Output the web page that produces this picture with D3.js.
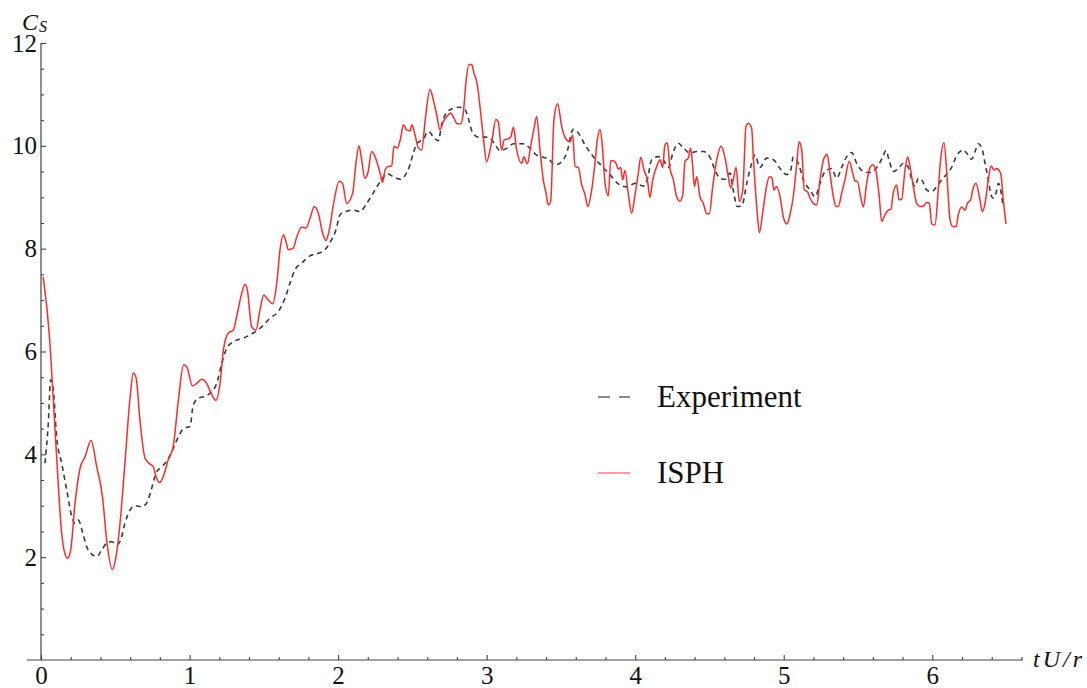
<!DOCTYPE html>
<html>
<head>
<meta charset="utf-8">
<script src="https://cdn.jsdelivr.net/npm/d3@7"></script>
<style>
  html, body { margin: 0; padding: 0; background: #fff; }
  svg { display: block; font-family: "Liberation Serif", "Times New Roman", serif; }
</style>
</head>
<body>
<svg id="chart"></svg>
<script>
// ISPH simulation (red solid line)
const isphT = [0.015, 0.06, 0.079, 0.105, 0.139, 0.16, 0.18, 0.2, 0.229, 0.263, 0.296, 0.337, 0.375, 0.415, 0.442, 0.48, 0.505, 0.532, 0.565, 0.6,
  0.621, 0.64, 0.666, 0.7, 0.734, 0.756, 0.774, 0.8, 0.823, 0.857, 0.89, 0.925, 0.96, 0.98, 1.02, 1.048, 1.082, 1.115, 1.149, 1.178,
  1.205, 1.228, 1.261, 1.295, 1.317, 1.351, 1.373, 1.389, 1.418, 1.447, 1.474, 1.5, 1.53, 1.56, 1.587, 1.609, 1.631, 1.649, 1.665, 1.698,
  1.721, 1.755, 1.784, 1.811, 1.84, 1.867, 1.896, 1.919, 1.941, 1.968, 2.008, 2.03, 2.058, 2.098, 2.12, 2.14, 2.155, 2.18, 2.2, 2.226,
  2.26, 2.282, 2.3, 2.316, 2.338, 2.361, 2.376, 2.399, 2.421, 2.439, 2.462, 2.484, 2.497, 2.518, 2.54, 2.563, 2.585, 2.619, 2.641, 2.664,
  2.686, 2.708, 2.735, 2.758, 2.78, 2.802, 2.825, 2.843, 2.861, 2.881, 2.899, 2.915, 2.937, 2.955, 2.977, 3.0, 3.023, 3.04, 3.061, 3.078,
  3.1, 3.119, 3.139, 3.162, 3.18, 3.202, 3.236, 3.251, 3.274, 3.296, 3.319, 3.337, 3.359, 3.381, 3.4, 3.415, 3.431, 3.453, 3.478, 3.505,
  3.53, 3.561, 3.579, 3.595, 3.617, 3.64, 3.662, 3.68, 3.707, 3.729, 3.745, 3.763, 3.779, 3.797, 3.819, 3.835, 3.853, 3.871, 3.886, 3.902,
  3.916, 3.931, 3.953, 3.976, 3.999, 4.021, 4.037, 4.059, 4.081, 4.1, 4.118, 4.145, 4.167, 4.185, 4.2, 4.216, 4.234, 4.257, 4.279, 4.302,
  4.32, 4.335, 4.357, 4.373, 4.387, 4.398, 4.414, 4.436, 4.459, 4.481, 4.499, 4.522, 4.549, 4.578, 4.605, 4.627, 4.643, 4.66, 4.679, 4.701,
  4.724, 4.746, 4.762, 4.784, 4.795, 4.818, 4.836, 4.858, 4.88, 4.903, 4.919, 4.934, 4.952, 4.975, 4.997, 5.02, 5.042, 5.064, 5.087, 5.103,
  5.121, 5.138, 5.159, 5.177, 5.199, 5.222, 5.244, 5.271, 5.293, 5.311, 5.334, 5.352, 5.367, 5.39, 5.412, 5.441, 5.464, 5.48, 5.495, 5.518,
  5.536, 5.558, 5.581, 5.599, 5.621, 5.643, 5.659, 5.682, 5.704, 5.722, 5.737, 5.76, 5.776, 5.794, 5.816, 5.834, 5.85, 5.872, 5.895, 5.917,
  5.939, 5.962, 5.98, 5.996, 6.018, 6.04, 6.056, 6.079, 6.099, 6.119, 6.137, 6.16, 6.175, 6.198, 6.22, 6.236, 6.259, 6.272, 6.294, 6.317,
  6.337, 6.355, 6.377, 6.395, 6.415, 6.433, 6.451, 6.462, 6.478, 6.496];
const isphCs = [7.45, 6.17, 5.25, 3.96, 2.47, 2.08, 1.98, 2.14, 3.05, 3.73, 3.95, 4.27, 3.76, 3.15, 2.33, 1.76, 2.01, 2.66, 3.83, 5.12,
  5.58, 5.49, 4.67, 3.93, 3.81, 3.76, 3.57, 3.45, 3.57, 3.9, 4.15, 5.06, 5.74, 5.71, 5.33, 5.38, 5.46, 5.38, 5.16, 5.05,
  5.38, 6.03, 6.36, 6.42, 6.68, 7.13, 7.31, 7.2, 6.48, 6.42, 6.81, 7.1, 7.0, 6.93, 7.33, 7.98, 8.27, 8.14, 7.98, 8.01,
  8.22, 8.42, 8.4, 8.59, 8.82, 8.69, 8.3, 8.16, 8.37, 8.85, 9.31, 9.27, 8.88, 9.08, 9.66, 10.0, 9.8, 9.37, 9.47, 9.89,
  9.7, 9.47, 9.29, 9.53, 9.6, 9.61, 9.99, 9.96, 10.15, 10.41, 10.31, 10.29, 10.41, 10.21, 9.96, 9.92, 10.47, 11.1, 10.89, 10.6,
  10.31, 10.47, 10.58, 10.64, 10.54, 10.43, 10.43, 10.64, 11.25, 11.58, 11.58, 11.41, 11.19, 10.77, 10.18, 9.69, 9.92, 10.18, 10.51, 10.47,
  9.92, 10.12, 10.13, 10.17, 10.36, 9.92, 9.66, 9.79, 9.65, 9.99, 10.34, 10.57, 9.92, 9.34, 9.08, 8.85, 8.92, 10.51, 10.82, 10.38,
  10.15, 10.08, 10.21, 9.6, 9.58, 9.24, 9.05, 8.82, 9.14, 9.66, 10.12, 10.32, 9.99, 9.27, 9.03, 9.71, 9.71, 9.66, 9.55, 9.58,
  9.34, 9.52, 9.08, 8.69, 9.05, 9.47, 9.78, 9.53, 9.35, 9.0, 9.34, 9.6, 9.73, 9.58, 10.02, 10.06, 9.56, 9.34, 9.01, 8.92,
  9.05, 9.7, 9.76, 9.96, 9.6, 9.21, 9.4, 9.01, 8.88, 8.68, 8.68, 9.21, 9.73, 9.99, 9.76, 9.39, 9.18, 9.34, 9.58, 8.92,
  9.14, 10.38, 10.44, 10.34, 9.79, 8.82, 8.31, 8.69, 9.14, 9.4, 9.39, 9.14, 9.21, 9.01, 8.62, 8.48, 8.66, 9.01, 9.63, 10.08,
  9.92, 9.14, 9.11, 8.98, 8.88, 8.85, 9.34, 9.76, 9.83, 9.47, 9.01, 8.82, 8.82, 9.08, 9.34, 9.7, 9.47, 9.31, 9.31, 9.01,
  8.81, 9.27, 9.58, 9.63, 9.5, 9.01, 8.53, 8.66, 8.75, 8.77, 9.08, 9.24, 8.95, 8.96, 9.53, 9.79, 9.6, 9.21, 8.88, 8.82,
  8.83, 8.9, 8.88, 8.48, 8.46, 9.14, 9.73, 10.06, 9.4, 8.57, 8.43, 8.43, 8.66, 8.81, 8.75, 8.88, 8.96, 9.14, 9.27, 9.01,
  8.72, 8.88, 9.34, 9.61, 9.53, 9.56, 9.52, 9.44, 8.95, 8.48];

// Experiment (dashed grey line)
const expT = [0.027, 0.049, 0.065, 0.083, 0.105, 0.139, 0.173, 0.207, 0.229, 0.251, 0.281, 0.308, 0.341, 0.375, 0.409, 0.442, 0.476, 0.51, 0.536, 0.565,
  0.6, 0.633, 0.678, 0.711, 0.745, 0.774, 0.812, 0.846, 0.886, 0.925, 0.963, 1.003, 1.025, 1.059, 1.093, 1.138, 1.183, 1.217, 1.25, 1.295,
  1.362, 1.429, 1.486, 1.542, 1.598, 1.643, 1.676, 1.71, 1.755, 1.811, 1.867, 1.912, 1.95, 1.986, 2.013, 2.046, 2.102, 2.147, 2.192, 2.226,
  2.26, 2.293, 2.327, 2.372, 2.417, 2.45, 2.484, 2.506, 2.533, 2.573, 2.607, 2.619, 2.641, 2.675, 2.697, 2.731, 2.776, 2.82, 2.854, 2.876,
  2.906, 2.944, 2.989, 3.023, 3.056, 3.09, 3.135, 3.18, 3.247, 3.292, 3.337, 3.381, 3.422, 3.46, 3.505, 3.539, 3.583, 3.617, 3.662, 3.718,
  3.774, 3.83, 3.886, 3.943, 3.999, 4.054, 4.081, 4.111, 4.156, 4.189, 4.223, 4.257, 4.29, 4.324, 4.369, 4.414, 4.459, 4.503, 4.537, 4.571,
  4.605, 4.638, 4.66, 4.687, 4.717, 4.751, 4.784, 4.806, 4.84, 4.885, 4.93, 4.975, 5.02, 5.047, 5.064, 5.098, 5.132, 5.177, 5.211, 5.244,
  5.278, 5.323, 5.356, 5.39, 5.424, 5.457, 5.491, 5.536, 5.581, 5.626, 5.666, 5.688, 5.711, 5.737, 5.771, 5.805, 5.839, 5.861, 5.884, 5.906,
  5.929, 5.962, 5.996, 6.03, 6.063, 6.097, 6.13, 6.164, 6.209, 6.231, 6.265, 6.288, 6.31, 6.333, 6.355, 6.377, 6.395, 6.411, 6.429, 6.445,
  6.456, 6.474];
const expCs = [3.83, 4.6, 5.45, 5.25, 4.34, 3.83, 3.31, 2.79, 2.66, 2.72, 2.47, 2.2, 2.06, 2.01, 2.14, 2.27, 2.3, 2.24, 2.33, 2.66,
  2.92, 3.0, 2.98, 3.05, 3.34, 3.63, 3.76, 3.86, 4.09, 4.34, 4.51, 4.54, 4.96, 5.09, 5.12, 5.19, 5.38, 5.77, 6.06, 6.19,
  6.26, 6.36, 6.48, 6.65, 6.78, 7.04, 7.33, 7.59, 7.72, 7.86, 7.91, 7.98, 8.14, 8.37, 8.66, 8.72, 8.75, 8.72, 8.88, 9.03,
  9.2, 9.34, 9.46, 9.4, 9.35, 9.42, 9.63, 9.86, 10.05, 10.13, 10.28, 10.26, 10.17, 10.1, 10.41, 10.65, 10.73, 10.75, 10.71, 10.54,
  10.25, 10.17, 10.17, 10.15, 10.02, 9.91, 9.95, 10.04, 10.04, 9.95, 9.82, 9.78, 9.73, 9.63, 9.69, 9.86, 10.32, 10.25, 10.02, 9.79,
  9.61, 9.44, 9.26, 9.2, 9.27, 9.22, 9.34, 9.73, 9.79, 9.73, 9.58, 9.89, 10.05, 9.96, 9.86, 9.89, 9.89, 9.78, 9.53, 9.37,
  9.35, 9.47, 9.14, 8.82, 8.83, 9.27, 9.66, 9.82, 9.58, 9.76, 9.73, 9.56, 9.44, 9.53, 9.78, 9.66, 9.34, 9.14, 9.01, 9.27,
  9.5, 9.56, 9.37, 9.58, 9.79, 9.87, 9.66, 9.5, 9.48, 9.58, 9.78, 9.91, 9.7, 9.5, 9.56, 9.66, 9.58, 9.34, 9.21, 9.37,
  9.34, 9.14, 9.11, 9.21, 9.34, 9.45, 9.58, 9.81, 9.92, 9.86, 9.74, 9.89, 10.04, 9.96, 9.66, 9.34, 9.05, 8.98, 9.08, 9.27,
  9.21, 8.87];

// Tick values
const xMajor = [0, 1, 2, 3, 4, 5, 6];
const xMinor = [0.2, 0.4, 0.6, 0.8, 1.2, 1.4, 1.6, 1.8, 2.2, 2.4, 2.6, 2.8, 3.2, 3.4, 3.6, 3.8, 4.2, 4.4, 4.6, 4.8, 5.2, 5.4, 5.6, 5.8, 6.2, 6.4, 6.6];
const yMajor = [2, 4, 6, 8, 10, 12];
const yMinor = [0.5, 1, 1.5, 2.5, 3, 3.5, 4.5, 5, 5.5, 6.5, 7, 7.5, 8.5, 9, 9.5, 10.5, 11, 11.5];

const seriesNames = ["Experiment", "ISPH"];

const width = 1087;
const height = 688;

const svg = d3.select("#chart")
    .attr("width", width)
    .attr("height", height);

// Scales (pixel positions of 0 and 6 / 0 and 12)
const x = d3.scaleLinear().domain([0, 6]).range([41, 932.3]);
const y = d3.scaleLinear().domain([0, 12]).range([660, 43]);

const axisColor = "#444";

// x axis line runs a little past both ends
svg.append("line")
    .attr("x1", x(-0.095)).attr("x2", x(6.61))
    .attr("y1", y(0)).attr("y2", y(0))
    .attr("stroke", axisColor).attr("stroke-width", 1.2);

svg.append("line")
    .attr("x1", x(0)).attr("x2", x(0))
    .attr("y1", y(0)).attr("y2", y(12))
    .attr("stroke", axisColor).attr("stroke-width", 1.2);

// Major / minor ticks (pointing inward)
const xAxisMajor = svg.append("g")
    .attr("transform", `translate(0,${y(0)})`)
    .call(d3.axisBottom(x).tickValues(xMajor).tickSize(-5).tickPadding(6).tickFormat(d3.format("d")));
const xAxisMinor = svg.append("g")
    .attr("transform", `translate(0,${y(0)})`)
    .call(d3.axisBottom(x).tickValues(xMinor).tickSize(-3).tickFormat(""));

const yAxisMajor = svg.append("g")
    .attr("transform", `translate(${x(0)},0)`)
    .call(d3.axisLeft(y).tickValues(yMajor).tickSize(-5).tickPadding(4).tickFormat(d3.format("d")));
const yAxisMinor = svg.append("g")
    .attr("transform", `translate(${x(0)},0)`)
    .call(d3.axisLeft(y).tickValues(yMinor).tickSize(-3).tickFormat(""));

[xAxisMajor, xAxisMinor, yAxisMajor, yAxisMinor].forEach(g => {
    g.select(".domain").remove();
    g.selectAll(".tick line").attr("stroke", axisColor).attr("stroke-width", 1.1);
    g.selectAll("text")
        .style("font-family", "'Liberation Serif', serif")
        .style("font-size", "25px")
        .attr("fill", "#111");
});

// Axis labels
svg.append("text")
    .attr("x", 1033)
    .attr("y", 667)
    .attr("textLength", 49)
    .attr("lengthAdjust", "spacing")
    .style("font-size", "24px")
    .style("font-style", "italic")
    .attr("fill", "#111")
    .text("tU/r");

const cs = svg.append("text")
    .attr("x", 22)
    .attr("y", 30)
    .style("font-size", "24px")
    .style("font-style", "italic")
    .attr("fill", "#111");
cs.append("tspan").text("C");
cs.append("tspan").attr("dy", 2).attr("dx", 1).style("font-size", "16px").text("S");

// Lines
const line = d3.line()
    .x(d => x(d[0]))
    .y(d => y(d[1]))
    .curve(d3.curveMonotoneX);

const expData = expT.map((t, i) => [t, expCs[i]]);
const isphData = isphT.map((t, i) => [t, isphCs[i]]);

svg.append("path")
    .datum(expData)
    .attr("d", line)
    .attr("fill", "none")
    .attr("stroke", "#3a3a3a")
    .attr("stroke-width", 1.6)
    .attr("stroke-dasharray", "5,4");

svg.append("path")
    .datum(isphData)
    .attr("d", line)
    .attr("fill", "none")
    .attr("stroke", "#ff2a2a")
    .attr("stroke-width", 1.5);

// Legend
const legend = svg.append("g");
const legendY = [397, 473];
const legendStyle = [
    { stroke: "#666", dash: "12,9" },
    { stroke: "#ff6a6a", dash: null }
];

seriesNames.forEach((name, i) => {
    legend.append("line")
        .attr("x1", 598).attr("x2", 630)
        .attr("y1", legendY[i]).attr("y2", legendY[i])
        .attr("stroke", legendStyle[i].stroke)
        .attr("stroke-width", 1.3)
        .attr("stroke-dasharray", legendStyle[i].dash);
    legend.append("text")
        .attr("x", 657)
        .attr("y", legendY[i] + 10)
        .style("font-size", "31px")
        .attr("fill", "#111")
        .text(name);
});
</script>
</body>
</html>
